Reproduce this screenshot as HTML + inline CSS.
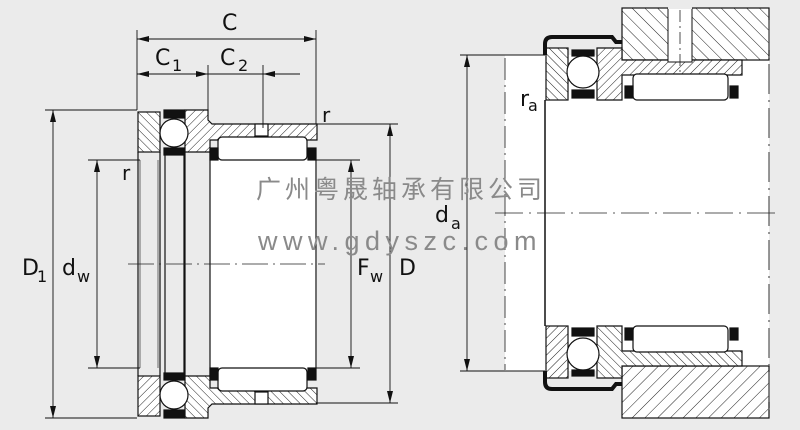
<!DOCTYPE html>
<html><head><meta charset="utf-8"><style>
html,body{margin:0;padding:0;background:#ebebeb;}
svg{display:block;}
text{font-family:"DejaVu Sans","Liberation Sans",sans-serif;fill:#111;}
.wm{font-family:"Liberation Sans","Noto Sans CJK SC",sans-serif;fill:#8a8a8a;}
</style></head><body>
<svg width="800" height="430" viewBox="0 0 800 430" xmlns="http://www.w3.org/2000/svg">
<defs>
<pattern id="h1" patternUnits="userSpaceOnUse" width="6" height="6" patternTransform="rotate(45)">
<rect width="6" height="6" fill="#fff"/><line x1="0" y1="0" x2="0" y2="6" stroke="#222" stroke-width="1"/></pattern>
<pattern id="h2" patternUnits="userSpaceOnUse" width="6" height="6" patternTransform="rotate(-45)">
<rect width="6" height="6" fill="#fff"/><line x1="0" y1="0" x2="0" y2="6" stroke="#222" stroke-width="1"/></pattern>
<pattern id="h3" patternUnits="userSpaceOnUse" width="9" height="9" patternTransform="rotate(-45)">
<rect width="9" height="9" fill="#fff"/><line x1="0" y1="0" x2="0" y2="9" stroke="#222" stroke-width="1"/></pattern>
<marker id="a" viewBox="0 0 12 6" refX="12" refY="3" markerWidth="12" markerHeight="6" orient="auto-start-reverse" markerUnits="userSpaceOnUse">
<path d="M0,0 L12,3 L0,6 z" fill="#111"/></marker>

<g id="Ltop" stroke="#111" stroke-width="1.2">
 <rect x="138" y="112" width="22" height="40" fill="url(#h2)"/>
 <path d="M185,110 L208,110 L208,120 L212,124 L317,124 L317,140 L210,140 L210,152 L185,152 Z" fill="url(#h1)"/>
 <rect x="255" y="124" width="13" height="12" fill="#fff"/>
 <rect x="164" y="110" width="20" height="8" fill="#111"/>
 <rect x="164" y="148" width="20" height="7" fill="#111"/>
 <circle cx="174" cy="133" r="14" fill="#fff"/>
 <rect x="218" y="137" width="89" height="23" rx="4" fill="#fff"/>
 <rect x="210" y="148" width="8" height="12" fill="#111"/>
 <rect x="308" y="148" width="8" height="12" fill="#111"/>
</g>

<g id="Rtop" stroke="#111" stroke-width="1.2">
 <rect x="622" y="8" width="147" height="52" fill="url(#h3)"/>
 <rect x="546" y="48" width="22" height="52" fill="url(#h2)"/>
 <path d="M597,48 L622,48 L622,60 L742,60 L742,75 L622,75 L622,100 L597,100 Z" fill="url(#h1)"/>
 <rect x="572" y="50" width="22" height="6" fill="#111"/>
 <rect x="572" y="90" width="22" height="8" fill="#111"/>
 <circle cx="583" cy="72" r="16" fill="#fff"/>
 <rect x="633" y="74" width="95" height="26" rx="4" fill="#fff"/>
 <rect x="625" y="86" width="8" height="12" fill="#111"/>
 <rect x="730" y="86" width="8" height="12" fill="#111"/>
 <path d="M545,55 L545,44 Q545,37 552,37 L612,37 L616,42 L622,42" fill="none" stroke-width="4"/>
</g>
</defs>

<rect x="210" y="160" width="107" height="208" fill="#fff"/>
<use href="#Ltop"/>
<use href="#Ltop" transform="translate(0,528) scale(1,-1)"/>
<g stroke="#111" stroke-width="1.2" fill="none">
 <line x1="138" y1="152" x2="138" y2="376"/>
 <line x1="140" y1="160" x2="140" y2="368" stroke-width="0.6"/>
 <line x1="158" y1="160" x2="158" y2="368" stroke-width="0.6"/>
 <line x1="160" y1="152" x2="160" y2="376"/>
 <line x1="165" y1="155" x2="165" y2="373"/>
 <line x1="184" y1="155" x2="184" y2="373"/>
 <line x1="185" y1="152" x2="185" y2="376"/>
 <line x1="210" y1="152" x2="210" y2="376"/>
 <line x1="316" y1="160" x2="316" y2="368"/>
</g>
<line x1="128" y1="264" x2="325" y2="264" stroke="#222" stroke-width="0.8" stroke-dasharray="26,5,2,5"/>

<g stroke="#111" stroke-width="0.9" fill="none">
 <line x1="137" y1="30" x2="137" y2="110"/>
 <line x1="316" y1="30" x2="316" y2="124"/>
 <line x1="208" y1="65" x2="208" y2="110"/>
 <line x1="263" y1="65" x2="263" y2="128"/>
 <line x1="137" y1="39" x2="316" y2="39" marker-start="url(#a)" marker-end="url(#a)"/>
 <line x1="137" y1="74" x2="208" y2="74" marker-start="url(#a)" marker-end="url(#a)"/>
 <line x1="208" y1="74" x2="263" y2="74"/>
 <line x1="300" y1="74" x2="263" y2="74" marker-end="url(#a)"/>
 <line x1="45" y1="110" x2="137" y2="110"/>
 <line x1="45" y1="418" x2="137" y2="418"/>
 <line x1="88" y1="160" x2="140" y2="160"/>
 <line x1="88" y1="368" x2="140" y2="368"/>
 <line x1="316" y1="160" x2="360" y2="160"/>
 <line x1="316" y1="368" x2="360" y2="368"/>
 <line x1="316" y1="124" x2="398" y2="124"/>
 <line x1="316" y1="403" x2="398" y2="403"/>
 <line x1="53" y1="110" x2="53" y2="418" marker-start="url(#a)" marker-end="url(#a)"/>
 <line x1="97" y1="160" x2="97" y2="368" marker-start="url(#a)" marker-end="url(#a)"/>
 <line x1="351" y1="160" x2="351" y2="368" marker-start="url(#a)" marker-end="url(#a)"/>
 <line x1="390" y1="124" x2="390" y2="403" marker-start="url(#a)" marker-end="url(#a)"/>
</g>
<text x="222" y="30" font-size="22">C</text>
<text x="155" y="65" font-size="22">C</text><text x="172" y="71" font-size="16">1</text>
<text x="220" y="65" font-size="22">C</text><text x="238" y="71" font-size="16">2</text>
<text x="322" y="122" font-size="20">r</text>
<text x="122" y="180" font-size="20">r</text>
<text x="22" y="275" font-size="22">D</text><text x="37" y="282" font-size="16">1</text>
<text x="62" y="275" font-size="22">d</text><text x="77" y="282" font-size="16">w</text>
<text x="357" y="275" font-size="22">F</text><text x="370" y="282" font-size="16">w</text>
<text x="399" y="275" font-size="22">D</text>

<rect x="505" y="55" width="264" height="316" fill="#fff"/>
<use href="#Rtop"/>
<use href="#Rtop" transform="translate(0,426) scale(1,-1)"/>
<rect x="668" y="8" width="24" height="54" fill="#fff" stroke="#111" stroke-width="1"/>
<line x1="668" y1="8" x2="692" y2="8" stroke="#ebebeb" stroke-width="2"/>
<line x1="680" y1="10" x2="680" y2="75" stroke="#222" stroke-width="0.8" stroke-dasharray="12,4,2,4"/>
<line x1="545" y1="100" x2="545" y2="326" stroke="#111" stroke-width="1.5"/>
<line x1="505" y1="58" x2="505" y2="370" stroke="#333" stroke-width="0.9" stroke-dasharray="22,5,2,5"/>
<line x1="769" y1="20" x2="769" y2="415" stroke="#555" stroke-width="1.2" stroke-dasharray="30,6,2,6"/>
<line x1="495" y1="213" x2="780" y2="213" stroke="#222" stroke-width="0.8" stroke-dasharray="28,6,2,6"/>
<g stroke="#111" stroke-width="0.9" fill="none">
 <line x1="460" y1="55" x2="545" y2="55"/>
 <line x1="460" y1="371" x2="545" y2="371"/>
 <line x1="467" y1="55" x2="467" y2="371" marker-start="url(#a)" marker-end="url(#a)"/>
</g>
<text x="520" y="106" font-size="22">r</text><text x="528" y="111" font-size="16">a</text>
<text x="435" y="222" font-size="22">d</text><text x="451" y="229" font-size="16">a</text>

<text class="wm" x="256" y="198" font-size="25" letter-spacing="4">广州粤晟轴承有限公司</text>
<text class="wm" x="258" y="250" font-size="27" letter-spacing="5.5">www.gdyszc.com</text>
</svg>
</body></html>
